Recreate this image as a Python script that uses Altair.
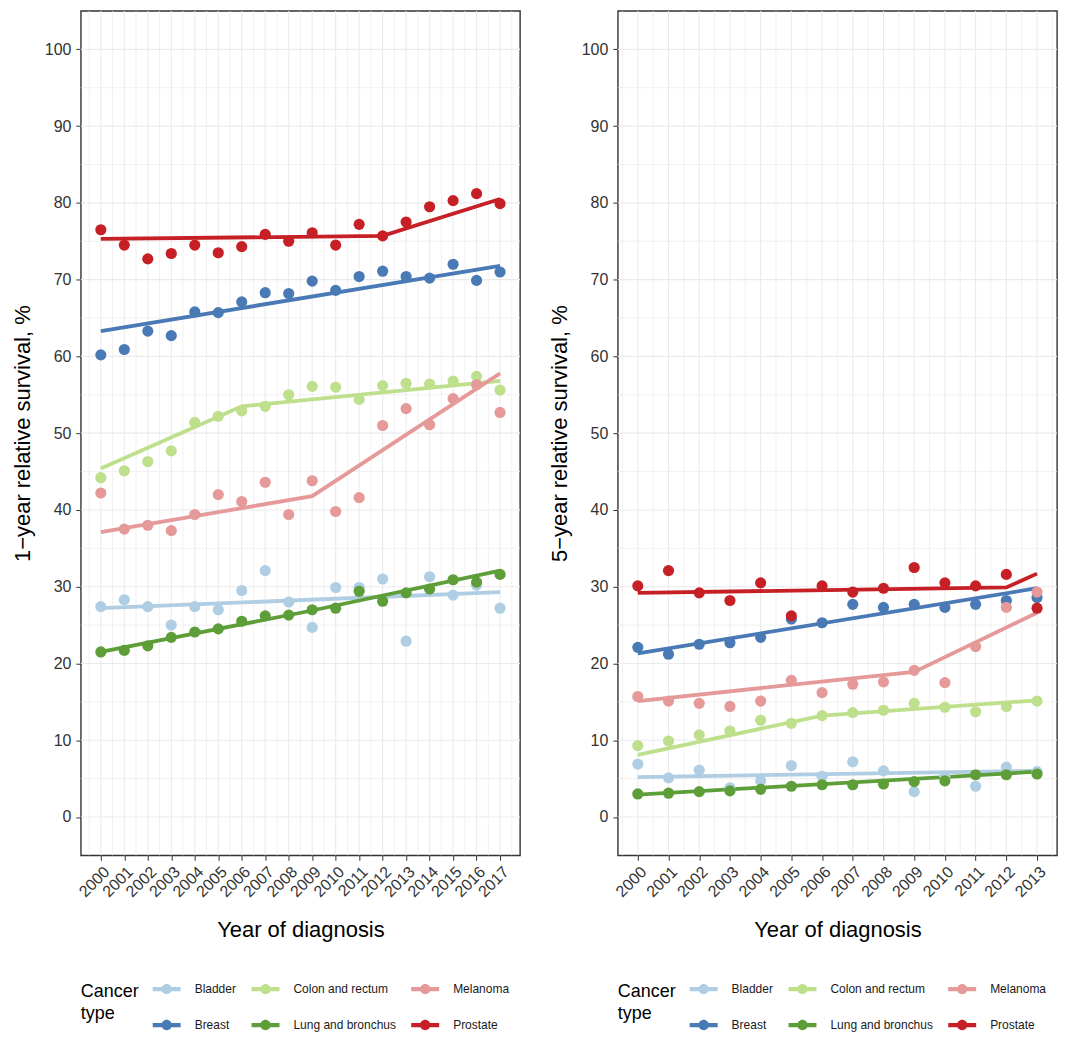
import altair as alt
import pandas as pd

# ---------------- data ----------------
types = ["Bladder", "Breast", "Colon and rectum", "Lung and bronchus", "Melanoma", "Prostate"]
legend_order = ["Bladder", "Colon and rectum", "Melanoma", "Breast", "Lung and bronchus", "Prostate"]
colors = {"Bladder": "#AFCDE3", "Breast": "#4A7AB5", "Colon and rectum": "#BEDF8B",
          "Lung and bronchus": "#5E9E38", "Melanoma": "#E59999", "Prostate": "#C62026"}

years_1y = list(range(2000, 2018))
bladder_1y = [27.4, 28.3, 27.4, 25.0, 27.4, 27.0, 29.5, 32.1, 28.0, 24.7, 29.9, 29.9, 31.0, 22.9, 31.3, 28.9, 30.2, 27.2]
breast_1y = [60.2, 60.9, 63.3, 62.7, 65.8, 65.7, 67.1, 68.3, 68.2, 69.8, 68.6, 70.4, 71.1, 70.4, 70.2, 72.0, 69.9, 71.0]
colon_1y = [44.2, 45.1, 46.3, 47.7, 51.4, 52.2, 52.9, 53.5, 55.0, 56.1, 56.0, 54.4, 56.2, 56.5, 56.4, 56.8, 57.4, 55.6]
lung_1y = [21.5, 21.7, 22.3, 23.4, 24.1, 24.5, 25.5, 26.2, 26.3, 27.0, 27.2, 29.4, 28.1, 29.2, 29.7, 30.9, 30.6, 31.6]
melanoma_1y = [42.2, 37.5, 38.0, 37.3, 39.4, 42.0, 41.1, 43.6, 39.4, 43.8, 39.8, 41.6, 51.0, 53.2, 51.1, 54.5, 56.3, 52.7]
prostate_1y = [76.5, 74.5, 72.7, 73.4, 74.5, 73.5, 74.3, 75.9, 75.0, 76.1, 74.5, 77.2, 75.7, 77.5, 79.5, 80.3, 81.2, 79.9]

# joinpoint fitted segments (1-year)
bladder_1y_fit_years, bladder_1y_fit = [2000, 2017], [27.2, 29.3]
breast_1y_fit_years, breast_1y_fit = [2000, 2017], [63.3, 71.8]
colon_1y_fit_years, colon_1y_fit = [2000, 2006, 2017], [45.4, 53.5, 56.8]
lung_1y_fit_years, lung_1y_fit = [2000, 2009, 2017], [21.5, 26.9, 32.1]
melanoma_1y_fit_years, melanoma_1y_fit = [2000, 2009, 2017], [37.1, 41.8, 57.8]
prostate_1y_fit_years, prostate_1y_fit = [2000, 2012, 2017], [75.3, 75.7, 80.5]

years_5y = list(range(2000, 2014))
bladder_5y = [6.9, 5.1, 6.1, 3.8, 4.7, 6.7, 5.3, 7.2, 6.0, 3.3, 5.3, 4.0, 6.5, 5.9]
breast_5y = [22.1, 21.2, 22.5, 22.7, 23.4, 25.8, 25.3, 27.7, 27.3, 27.7, 27.3, 27.7, 28.2, 28.6]
colon_5y = [9.3, 9.9, 10.7, 11.2, 12.6, 12.2, 13.2, 13.6, 13.9, 14.8, 14.3, 13.7, 14.4, 15.1]
lung_5y = [3.0, 3.1, 3.3, 3.4, 3.6, 4.0, 4.2, 4.2, 4.3, 4.6, 4.7, 5.5, 5.5, 5.6]
melanoma_5y = [15.7, 15.1, 14.8, 14.4, 15.1, 17.8, 16.2, 17.3, 17.6, 19.1, 17.5, 22.2, 27.3, 29.3]
prostate_5y = [30.1, 32.1, 29.2, 28.2, 30.5, 26.2, 30.1, 29.3, 29.8, 32.5, 30.5, 30.1, 31.6, 27.2]

bladder_5y_fit_years, bladder_5y_fit = [2000, 2013], [5.2, 6.0]
breast_5y_fit_years, breast_5y_fit = [2000, 2013], [21.3, 29.8]
colon_5y_fit_years, colon_5y_fit = [2000, 2006, 2013], [8.1, 13.2, 15.2]
lung_5y_fit_years, lung_5y_fit = [2000, 2013], [2.9, 5.9]
melanoma_5y_fit_years, melanoma_5y_fit = [2000, 2009, 2013], [15.1, 18.9, 26.6]
prostate_5y_fit_years, prostate_5y_fit = [2000, 2012, 2013], [29.2, 29.9, 31.7]

y_major = list(range(0, 101, 10))
y_minor = list(range(5, 100, 10))

# ---------------- helpers ----------------
FONT = "Liberation Sans"
LEGEND_PATH = ("M-1,-0.15 L1,-0.15 L1,0.15 L-1,0.15 Z "
               "M-0.37,0 A0.37,0.37 0 1,1 0.37,0 A0.37,0.37 0 1,1 -0.37,0 Z")


def long_points(years, series):
    rows = []
    for t, vals in zip(types, series):
        for yr, v in zip(years, vals):
            rows.append({"year": yr, "value": v, "type": t})
    return pd.DataFrame(rows)


def long_fits(fits):
    rows = []
    for t, (yrs, vals) in zip(types, fits):
        for yr, v in zip(yrs, vals):
            rows.append({"year": yr, "value": v, "type": t})
    return pd.DataFrame(rows)


def panel(years, series, fits, ytitle):
    x0, x1 = years[0], years[-1]
    pad = (x1 - x0) * 0.05
    xscale = alt.Scale(domain=[x0 - pad, x1 + pad], nice=False, zero=False)
    yscale = alt.Scale(domain=[-5, 105], nice=False, zero=False)
    xaxis = alt.Axis(values=years, title="Year of diagnosis", format="d",
                     labelAngle=315, labelAlign="right", labelBaseline="top",
                     labelPadding=3, titlePadding=20, labelOverlap=False, tickCount=len(years))
    yaxis = alt.Axis(values=y_major, title=ytitle, titlePadding=10)
    X = lambda: alt.X("year:Q", scale=xscale, axis=xaxis)
    Y = lambda: alt.Y("value:Q", scale=yscale, axis=yaxis)

    vmajor = pd.DataFrame({"year": years})
    vminor = pd.DataFrame({"year": [y - 0.5 for y in years] + [x1 + 0.5]})
    hmajor = pd.DataFrame({"value": y_major})
    hminor = pd.DataFrame({"value": y_minor})

    g1 = alt.Chart(vminor).mark_rule(color="#EBEBEB", strokeWidth=0.7).encode(x=X())
    g2 = alt.Chart(hminor).mark_rule(color="#EBEBEB", strokeWidth=0.7).encode(y=Y())
    g3 = alt.Chart(vmajor).mark_rule(color="#EBEBEB", strokeWidth=1.1).encode(x=X())
    g4 = alt.Chart(hmajor).mark_rule(color="#EBEBEB", strokeWidth=1.1).encode(y=Y())

    cscale = alt.Scale(domain=legend_order, range=[colors[t] for t in legend_order])
    legend = alt.Legend(title=["Cancer", "type"], orient="bottom",
                        direction="horizontal", columns=3,
                        symbolType=LEGEND_PATH, symbolSize=784,
                        symbolStrokeWidth=0, titleOrient="left", titleAnchor="middle",
                        titlePadding=13, columnPadding=15, rowPadding=16,
                        labelOffset=14, offset=34)

    lines = alt.Chart(long_fits(fits)).mark_line(strokeWidth=3.8).encode(
        x=X(), y=Y(),
        color=alt.Color("type:N", scale=cscale, legend=legend),
        order="year:Q",
    )

    pts = alt.Chart(long_points(years, series)).mark_circle(size=125, opacity=1).encode(
        x=X(), y=Y(),
        color=alt.Color("type:N", scale=cscale, legend=legend),
    )

    return alt.layer(g1, g2, g3, g4, lines, pts).properties(width=440, height=846)


left = panel(years_1y,
             [bladder_1y, breast_1y, colon_1y, lung_1y, melanoma_1y, prostate_1y],
             [(bladder_1y_fit_years, bladder_1y_fit), (breast_1y_fit_years, breast_1y_fit),
              (colon_1y_fit_years, colon_1y_fit), (lung_1y_fit_years, lung_1y_fit),
              (melanoma_1y_fit_years, melanoma_1y_fit), (prostate_1y_fit_years, prostate_1y_fit)],
             "1\u2212year relative survival, %")

right = panel(years_5y,
              [bladder_5y, breast_5y, colon_5y, lung_5y, melanoma_5y, prostate_5y],
              [(bladder_5y_fit_years, bladder_5y_fit), (breast_5y_fit_years, breast_5y_fit),
               (colon_5y_fit_years, colon_5y_fit), (lung_5y_fit_years, lung_5y_fit),
               (melanoma_5y_fit_years, melanoma_5y_fit), (prostate_5y_fit_years, prostate_5y_fit)],
              "5\u2212year relative survival, %")

chart = alt.hconcat(left, right, spacing=25).resolve_scale(
    color="independent"
).resolve_legend(color="independent").properties(
    padding={"left": 2, "top": 0, "right": 0, "bottom": 0}
).configure(
    font=FONT,
).configure_view(
    stroke="#333333", strokeWidth=1.4
).configure_axis(
    grid=False, domain=False, tickColor="#333333", tickSize=5, labelPadding=5,
    labelFont=FONT, labelFontSize=16, labelColor="#333333",
    titleFont=FONT, titleFontSize=22, titleFontWeight="normal", titleColor="#000000",
).configure_legend(
    labelFont=FONT, labelFontSize=12, labelColor="#1A1A1A",
    titleFont=FONT, titleFontSize=18, titleFontWeight="normal", titleColor="#000000",
    titleLineHeight=22,
)

chart.save("out.html", embed_options={"renderer": "svg", "actions": False})
